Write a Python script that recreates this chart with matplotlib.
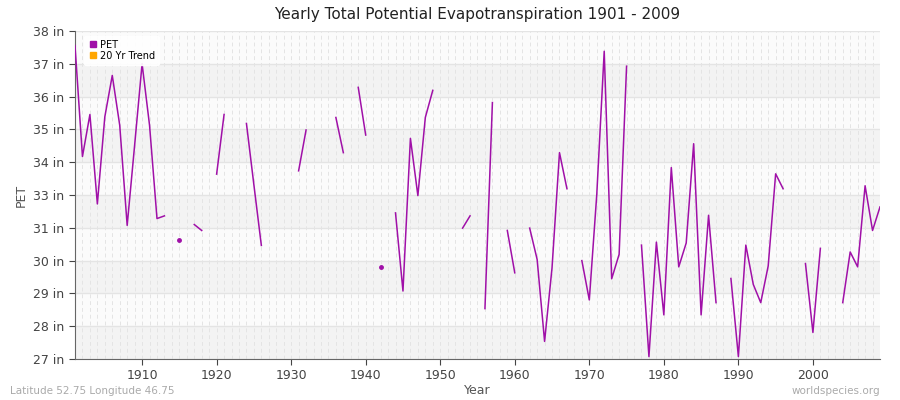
import numpy as np
import matplotlib
matplotlib.use("Agg")
import matplotlib.pyplot as plt

years = list(range(1901, 2010))
nan = np.nan
pet_known = {
1901:37.51,1902:33.79,1903:35.20,1904:32.20,1905:35.12,1906:36.51,1907:34.84,1908:31.48,1909:34.17,
1910:36.90,1911:34.84,1912:31.71,1913:31.80,1915:31.0,1917:31.51,1918:31.31,1920:33.20,1921:35.20,
1924:34.90,1925:32.84,1926:30.81,1931:33.31,1932:34.68,1936:35.10,1937:33.92,1939:36.11,1940:34.51,
1942:30.09,1944:31.90,1945:29.28,1946:34.40,1947:32.48,1948:35.10,1949:36.01,1953:31.39,1954:31.80,
1956:28.69,1957:35.60,1959:31.31,1960:29.89,1962:31.39,1963:30.34,1964:27.59,1965:30.06,1966:33.92,
1967:32.71,1969:30.30,1970:28.98,1971:32.51,1972:37.32,1973:29.69,1974:30.51,1975:36.82,
1977:30.82,1978:27.08,1979:30.92,1980:28.48,1981:33.42,1982:30.09,1983:30.89,1984:34.22,1985:28.48,
1986:31.82,1987:28.89,1989:29.70,1990:27.08,1991:30.82,1992:29.50,1993:28.89,1994:30.12,1995:33.21,
1996:32.71,1999:30.20,2000:27.89,2001:30.71,2004:28.89,2005:30.59,2006:30.09,2007:32.81,2008:31.31,
2009:32.10}
pet = np.array([pet_known.get(y, nan) for y in years])
xticks = [1910, 1920, 1930, 1940, 1950, 1960, 1970, 1980, 1990, 2000]

fig = plt.figure(figsize=(9, 4), dpi=100)
ax = fig.add_axes([75/900, 41/400, 805/900, 328/400])
ymin, ymax = 27, 38
step = 1.1
ytk = [ymin + i*step for i in range(11)]
for i in range(10):
    ax.axhspan(ytk[i], ytk[i+1], color="#f3f3f3" if i % 2 == 0 else "#fbfbfb", zorder=0, lw=0)
for t in ytk:
    ax.axhline(t, color="#e4e4e4", lw=1, zorder=1)
for y in years:
    ax.axvline(y, color="#e4e4e4", lw=0.7, ls=(0, (4, 3)), zorder=1)

ax.plot(years, pet, color="#a010a8", lw=1.1, zorder=3)
for i, y in enumerate(years):
    if not np.isnan(pet[i]):
        prev = pet[i-1] if i > 0 else nan
        nxt = pet[i+1] if i < len(years)-1 else nan
        if np.isnan(prev) and np.isnan(nxt):
            ax.plot([y], [pet[i]], "o", color="#a010a8", ms=2.5, zorder=3)

ax.set_xlim(1901, 2009)
ax.set_ylim(ymin, ymax)
ax.set_yticks(ytk)
ax.set_yticklabels([f"{int(np.floor(t+0.5))} in" for t in ytk])
ax.set_xticks(xticks)
ax.tick_params(colors="#444444", labelsize=9, length=4)
for s in ["top", "right"]:
    ax.spines[s].set_visible(False)
for s in ["left", "bottom"]:
    ax.spines[s].set_color("#666666")
ax.set_xlabel("Year", color="#555555", fontsize=9, labelpad=1)
ax.set_ylabel("PET", color="#555555", fontsize=9)
ax.set_title("Yearly Total Potential Evapotranspiration 1901 - 2009", fontsize=11, color="#222222", pad=9)

h1 = plt.Line2D([], [], marker="s", ls="", color="#a010a8", ms=4)
h2 = plt.Line2D([], [], marker="s", ls="", color="#ffa500", ms=4)
leg = ax.legend([h1, h2], ["PET", "20 Yr Trend"], loc="upper left", fontsize=7, frameon=True,
                handletextpad=0.3, borderpad=0.4, labelspacing=0.1, handlelength=1, bbox_to_anchor=(0.005, 1.0))
leg.get_frame().set_edgecolor("#ffffff")
leg.get_frame().set_alpha(0.9)

fig.text(10/900, 1-391/400, "Latitude 52.75 Longitude 46.75", fontsize=7.5, color="#aaaaaa", va="center")
fig.text(880/900, 1-391/400, "worldspecies.org", fontsize=7.5, color="#aaaaaa", va="center", ha="right")
fig.savefig("out.png", dpi=100, facecolor="white")
